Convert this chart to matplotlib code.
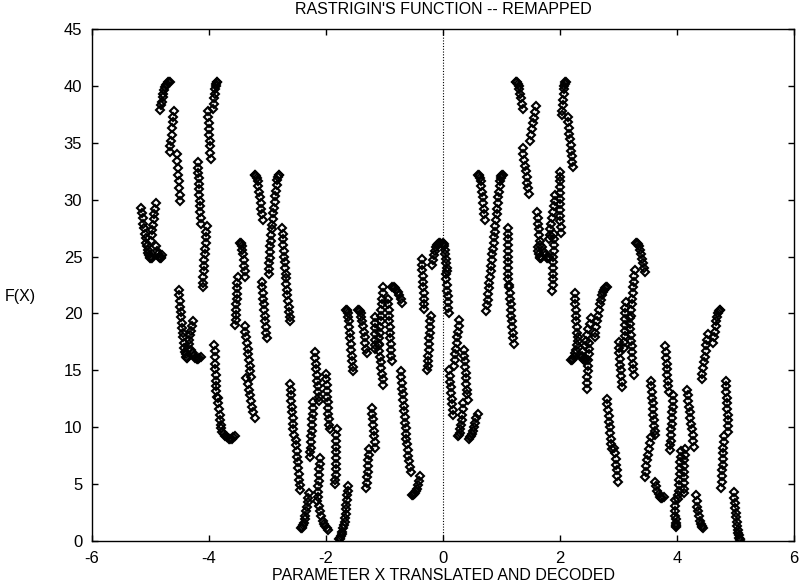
import matplotlib
matplotlib.use("Agg")
import matplotlib.pyplot as plt
import numpy as np

plt.rcParams['font.family'] = ['Liberation Sans Narrow', 'Liberation Sans', 'DejaVu Sans']
plt.rcParams['axes.unicode_minus'] = False

# Each column of diamonds: x of its top point, x of its bottom point, and the
# F(X) values of its points from top to bottom.
COL_X_TOP = [
    -5.16, -5.06, -4.91, -4.90, -4.67, -4.60, -4.55, -4.19, -4.04, -3.86,
    -4.02, -4.52, -4.44, -4.28, -4.30, -3.91, -3.85, -3.80, -3.47, -3.51,
    -3.39, -3.36, -3.22, -2.80, -2.93, -3.10, -2.75, -2.69, -2.61, -2.52,
    -2.29, -2.19, -2.22, -2.10, -2.12, -1.62, -1.70, -2.00, -1.82, -1.65,
    -1.45, -1.16, -1.02, -1.10, -0.94, -0.87, -0.72, -0.63, -0.39, -1.22,
    -1.26, -0.36, -0.21, -0.05, 0.00, 0.05, 0.28, 0.11, 0.36, 0.35,
    0.59, 0.60, 1.02, 1.11, 1.13, 1.24, 1.59, 1.36, 1.61, 1.62,
    1.92, 1.70, 2.00, 1.90, 2.10, 2.13, 2.25, 2.30, 2.53, 2.37,
    2.50, 2.80, 3.28, 3.12, 3.19, 3.00, 3.30, 2.80, 2.93, 3.55,
    3.55, 3.62, 3.80, 3.94, 4.07, 4.13, 3.97, 4.32, 4.17, 4.74,
    4.53, 4.83, 4.80, 4.97,
]
COL_X_BOTTOM = [
    -5.07, -4.98, -4.99, -4.80, -4.84, -4.67, -4.49, -4.14, -4.11, -3.93,
    -3.97, -4.45, -4.37, -4.36, -4.14, -3.87, -3.80, -3.56, -3.38, -3.55,
    -3.28, -3.22, -3.08, -2.92, -2.98, -3.01, -2.69, -2.61, -2.55, -2.44,
    -2.43, -2.12, -2.27, -2.15, -1.97, -1.68, -1.78, -1.94, -1.84, -1.53,
    -1.30, -1.17, -1.10, -1.02, -0.88, -0.70, -0.63, -0.55, -0.53, -1.16,
    -1.31, -0.32, -0.27, -0.18, 0.07, 0.10, 0.19, 0.17, 0.42, 0.26,
    0.44, 0.72, 0.74, 1.12, 1.21, 1.36, 1.49, 1.47, 1.66, 1.68,
    1.81, 1.82, 2.01, 1.87, 2.03, 2.22, 2.30, 2.18, 2.38, 2.45,
    2.46, 2.59, 3.21, 3.10, 3.26, 3.06, 3.45, 2.89, 2.99, 3.63,
    3.45, 3.77, 3.86, 3.88, 4.02, 4.12, 3.98, 4.45, 4.29, 4.62,
    4.42, 4.88, 4.76, 5.08,
]
COL_F = [
    [29.3, 28.8, 28.4, 27.9, 27.5, 27.0, 26.6, 26.2],
    [25.9, 25.6, 25.3, 25.1, 25.0, 24.9, 24.9, 24.9],
    [29.7, 29.2, 28.7, 28.3, 27.8, 27.3, 26.9, 26.4],
    [25.9, 25.5, 25.2, 25.0, 24.9, 24.9, 25.0, 25.1],
    [40.3, 40.3, 40.3, 40.2, 40.1, 39.9, 39.6, 39.3, 39.0, 38.6, 38.3, 37.9],
    [37.8, 37.3, 36.8, 36.3, 35.7, 35.2, 34.7, 34.2],
    [34.0, 33.4, 32.8, 32.2, 31.6, 31.0, 30.4, 29.9],
    [33.3, 32.8, 32.3, 31.9, 31.4, 30.9, 30.4, 29.9, 29.4, 28.9, 28.4, 27.9],
    [27.7, 27.2, 26.7, 26.2, 25.7, 25.2, 24.7, 24.2, 23.7, 23.2, 22.7, 22.3],
    [40.3, 40.3, 40.2, 40.0, 39.7, 39.3, 38.9, 38.4, 38.0],
    [37.8, 37.3, 36.7, 36.2, 35.7, 35.2, 34.7, 34.1, 33.6],
    [22.1, 21.6, 21.1, 20.6, 20.1, 19.7, 19.2, 18.7, 18.3],
    [17.9, 17.4, 17.0, 16.6, 16.4, 16.2, 16.1, 16.1],
    [19.3, 18.9, 18.5, 18.1, 17.7, 17.3, 16.9],
    [16.8, 16.5, 16.3, 16.1, 16.0, 16.0, 16.1, 16.2],
    [17.2, 16.7, 16.2, 15.6, 15.1, 14.6, 14.1, 13.6, 13.2, 12.7],
    [12.6, 12.1, 11.6, 11.1, 10.6, 10.2],
    [9.9, 9.6, 9.4, 9.2, 9.1, 9.0, 9.0, 9.0, 9.1, 9.2],
    [26.2, 26.2, 26.1, 25.9, 25.6, 25.2, 24.7, 24.2, 23.7, 23.2],
    [23.2, 22.7, 22.2, 21.7, 21.3, 20.8, 20.3, 19.9, 19.4, 19.0],
    [18.9, 18.4, 17.9, 17.4, 16.9, 16.4, 15.9, 15.4, 14.9, 14.4],
    [14.3, 13.8, 13.3, 12.8, 12.3, 11.8, 11.3, 10.8],
    [32.2, 32.2, 32.1, 31.9, 31.6, 31.2, 30.7, 30.2, 29.7, 29.2, 28.7, 28.2],
    [32.2, 32.2, 32.0, 31.7, 31.3, 30.8, 30.3, 29.8, 29.3, 28.8, 28.3, 27.8],
    [27.4, 26.9, 26.4, 25.9, 25.4, 24.9, 24.4, 23.9, 23.5],
    [22.8, 22.3, 21.8, 21.3, 20.8, 20.3, 19.8, 19.3, 18.8, 18.3, 17.8],
    [27.5, 27.0, 26.5, 26.0, 25.5, 25.0, 24.5, 24.0, 23.5],
    [23.1, 22.6, 22.1, 21.6, 21.1, 20.6, 20.1, 19.7, 19.3],
    [13.8, 13.3, 12.8, 12.3, 11.8, 11.3, 10.8, 10.3, 9.8, 9.3],
    [8.9, 8.4, 7.9, 7.4, 6.9, 6.4, 5.9, 5.4, 4.9, 4.5],
    [4.2, 3.8, 3.4, 3.0, 2.6, 2.2, 1.9, 1.6, 1.4, 1.2, 1.1, 1.1],
    [16.6, 16.1, 15.6, 15.1, 14.6, 14.1, 13.6, 13.1, 12.7, 12.3],
    [12.2, 11.7, 11.2, 10.7, 10.2, 9.7, 9.2, 8.7, 8.2, 7.8, 7.4],
    [7.3, 6.8, 6.3, 5.8, 5.3, 4.8, 4.3, 3.9, 3.5],
    [3.1, 2.6, 2.2, 1.8, 1.5, 1.3, 1.1, 1.0],
    [4.8, 4.4, 4.0, 3.6, 3.2, 2.8, 2.4, 2.0, 1.7],
    [1.4, 1.1, 0.8, 0.6, 0.4, 0.3, 0.2, 0.2],
    [14.7, 14.2, 13.7, 13.2, 12.7, 12.2, 11.7, 11.2, 10.7, 10.2, 9.8],
    [9.8, 9.3, 8.8, 8.3, 7.8, 7.3, 6.8, 6.3, 5.8, 5.4, 5.0],
    [20.3, 20.3, 20.2, 20.0, 19.7, 19.3, 18.8, 18.3, 17.8, 17.3, 16.8, 16.3, 15.8, 15.3, 14.9],
    [20.3, 20.3, 20.2, 20.0, 19.7, 19.3, 18.9, 18.4, 17.9, 17.4, 16.9, 16.5],
    [19.7, 19.2, 18.7, 18.2, 17.7, 17.2, 16.9],
    [22.3, 21.8, 21.3, 20.8, 20.3, 19.8, 19.3, 18.8, 18.3, 17.8, 17.3],
    [17.2, 16.7, 16.2, 15.7, 15.2, 14.7, 14.2, 13.7],
    [21.3, 20.8, 20.3, 19.8, 19.3, 18.8, 18.3, 17.8, 17.3, 16.8, 16.3, 15.8],
    [22.3, 22.3, 22.2, 22.1, 21.9, 21.6, 21.3, 20.9],
    [14.9, 14.4, 13.9, 13.4, 12.9, 12.4, 11.9, 11.4, 10.9, 10.4, 9.9, 9.4],
    [9.0, 8.5, 8.0, 7.5, 7.0, 6.5, 6.1],
    [5.7, 5.3, 4.9, 4.6, 4.4, 4.2, 4.1, 4.0, 4.0],
    [11.7, 11.2, 10.7, 10.2, 9.7, 9.2, 8.7, 8.2],
    [8.1, 7.6, 7.1, 6.6, 6.1, 5.6, 5.1, 4.7],
    [24.8, 24.3, 23.8, 23.3, 22.8, 22.3, 21.8, 21.3, 20.8, 20.4],
    [19.8, 19.3, 18.8, 18.3, 17.8, 17.3, 16.8, 16.3, 15.8, 15.4, 15.0],
    [26.2, 26.2, 26.1, 26.0, 25.8, 25.5, 25.1, 24.7, 24.3],
    [26.2, 26.1, 25.9, 25.6, 25.2, 24.8, 24.4, 24.0, 23.7],
    [23.5, 23.0, 22.5, 22.0, 21.5, 21.0, 20.5, 20.0],
    [19.4, 18.9, 18.4, 17.9, 17.4, 16.9, 16.4, 15.9, 15.4],
    [15.0, 14.5, 14.0, 13.5, 13.0, 12.5, 12.0, 11.5, 11.1],
    [16.8, 16.3, 15.8, 15.3, 14.8, 14.3, 13.8, 13.3, 12.9, 12.4],
    [12.1, 11.6, 11.1, 10.6, 10.2, 9.8, 9.5, 9.3, 9.2],
    [11.2, 10.8, 10.4, 10.0, 9.7, 9.4, 9.2, 9.1, 9.0],
    [32.2, 32.2, 32.1, 31.9, 31.6, 31.2, 30.7, 30.2, 29.7, 29.2, 28.7, 28.2],
    [32.2, 32.2, 32.1, 31.9, 31.6, 31.2, 30.7, 30.2, 29.7, 29.2, 28.7, 28.2, 27.7, 27.2,
     26.7, 26.2, 25.7, 25.2, 24.7, 24.2, 23.7, 23.2, 22.7, 22.2, 21.7, 21.2, 20.7, 20.2],
    [27.5, 27.0, 26.5, 26.0, 25.5, 25.0, 24.5, 24.0, 23.5, 23.0, 22.5],
    [22.3, 21.8, 21.3, 20.8, 20.3, 19.8, 19.3, 18.8, 18.3, 17.8, 17.3],
    [40.3, 40.3, 40.3, 40.2, 40.0, 39.7, 39.3, 38.9, 38.4, 38.0],
    [38.2, 37.7, 37.2, 36.7, 36.2, 35.7, 35.2],
    [34.5, 34.0, 33.5, 33.0, 32.5, 32.0, 31.5, 31.0, 30.5],
    [28.9, 28.4, 27.9, 27.4, 26.9, 26.4, 26.0],
    [25.8, 25.5, 25.2, 25.0, 24.9, 24.9, 25.0],
    [30.4, 29.9, 29.4, 28.9, 28.4, 27.9, 27.4, 26.9, 26.5],
    [25.8, 25.4, 25.1, 24.9, 24.9, 25.0],
    [32.4, 32.0, 31.6, 31.1, 30.6, 30.1, 29.6, 29.1, 28.6, 28.1, 27.6, 27.1],
    [27.0, 26.5, 26.0, 25.5, 25.0, 24.5, 24.0, 23.5, 23.0, 22.5, 22.0],
    [40.3, 40.3, 40.2, 40.0, 39.7, 39.3, 38.8, 38.3, 37.8, 37.4],
    [37.3, 36.8, 36.3, 35.8, 35.3, 34.8, 34.3, 33.8, 33.3, 32.9],
    [21.8, 21.3, 20.8, 20.3, 19.8, 19.3, 18.8, 18.3, 17.9],
    [17.6, 17.2, 16.8, 16.5, 16.2, 16.0, 15.9, 15.9],
    [19.6, 19.1, 18.6, 18.1, 17.6, 17.1, 16.7, 16.3],
    [16.2, 16.0, 15.9, 15.9, 16.0],
    [17.4, 16.9, 16.4, 15.9, 15.4, 14.9, 14.4, 13.9, 13.4],
    [22.3, 22.3, 22.2, 22.1, 21.9, 21.6, 21.2, 20.8, 20.3, 19.8, 19.3, 18.8, 18.3, 17.9],
    [23.8, 23.3, 22.8, 22.3, 21.8, 21.3, 20.8, 20.3, 19.8],
    [21.0, 20.5, 20.0, 19.5, 19.0, 18.5, 18.0, 17.5, 17.0],
    [19.6, 19.1, 18.6, 18.1, 17.6, 17.1, 16.6, 16.1, 15.6, 15.1, 14.6],
    [17.5, 17.0, 16.5, 16.0, 15.5, 15.0, 14.5, 14.0, 13.5],
    [26.2, 26.2, 26.1, 25.9, 25.6, 25.2, 24.8, 24.4, 24.0, 23.6],
    [12.5, 12.0, 11.5, 11.0, 10.5, 10.0, 9.5, 9.0, 8.5, 8.1],
    [8.2, 7.7, 7.2, 6.7, 6.2, 5.7, 5.2],
    [14.1, 13.6, 13.1, 12.6, 12.1, 11.6, 11.1, 10.6, 10.1, 9.7, 9.3],
    [9.1, 8.6, 8.1, 7.6, 7.1, 6.6, 6.1, 5.6],
    [5.2, 4.8, 4.4, 4.1, 3.9, 3.8, 3.8, 3.9],
    [17.1, 16.6, 16.1, 15.6, 15.1, 14.6, 14.1, 13.6, 13.1],
    [12.8, 12.3, 11.8, 11.3, 10.8, 10.3, 9.8, 9.3, 8.8, 8.4, 8.0],
    [7.9, 7.4, 6.9, 6.4, 5.9, 5.4, 4.9, 4.4, 4.0, 3.7],
    [8.1, 7.6, 7.1, 6.6, 6.1, 5.6, 5.1, 4.6, 4.2],
    [3.6, 3.1, 2.6, 2.2, 1.9, 1.6, 1.4, 1.3, 1.2],
    [4.0, 3.5, 3.0, 2.6, 2.2, 1.8, 1.5, 1.3, 1.2, 1.1],
    [13.3, 12.8, 12.3, 11.8, 11.3, 10.8, 10.3, 9.8, 9.3, 8.8, 8.3],
    [20.3, 20.3, 20.2, 20.0, 19.7, 19.3, 18.9, 18.4, 17.9, 17.4],
    [18.2, 17.7, 17.2, 16.7, 16.2, 15.7, 15.2, 14.7, 14.2],
    [14.1, 13.6, 13.1, 12.6, 12.1, 11.6, 11.1, 10.6, 10.1, 9.6],
    [9.2, 8.7, 8.2, 7.7, 7.2, 6.7, 6.2, 5.7, 5.2, 4.7],
    [4.3, 3.8, 3.3, 2.9, 2.5, 2.1, 1.7, 1.3, 1.0, 0.7, 0.5, 0.3, 0.2, 0.1],
]

X_TICKS = [-6, -4, -2, 0, 2, 4, 6]
Y_TICKS = [0, 5, 10, 15, 20, 25, 30, 35, 40, 45]

fig = plt.figure(figsize=(8.0, 5.86), dpi=100)
ax = fig.add_axes([92 / 800, 45 / 586, 702 / 800, 512 / 586])

for x_top, x_bot, fvals in zip(COL_X_TOP, COL_X_BOTTOM, COL_F):
    xs = np.linspace(x_top, x_bot, len(fvals))
    ax.plot(xs, fvals, linestyle='none', marker='D', markersize=3.6,
            markerfacecolor='none', markeredgecolor='black', markeredgewidth=1.5)

ax.axvline(0, color='black', linestyle=(0, (1, 1.5)), linewidth=0.8)

ax.set_xlim(-6, 6)
ax.set_ylim(0, 45)
ax.set_xticks(X_TICKS)
ax.set_yticks(Y_TICKS)
ax.tick_params(direction='in', top=True, right=True, length=4.5, width=1,
               labelsize=12, pad=7)
for s in ax.spines.values():
    s.set_linewidth(1.0)

fig.text(443 / 800, 1 - 10 / 586, "RASTRIGIN'S FUNCTION -- REMAPPED",
         ha='center', va='center', fontsize=11.5)
fig.text(443 / 800, 1 - 575 / 586, "PARAMETER X TRANSLATED AND DECODED",
         ha='center', va='center', fontsize=11.5)
fig.text(20 / 800, 1 - 297 / 586, "F(X)", ha='center', va='center', fontsize=11.5)

fig.savefig('out.png', dpi=100)
